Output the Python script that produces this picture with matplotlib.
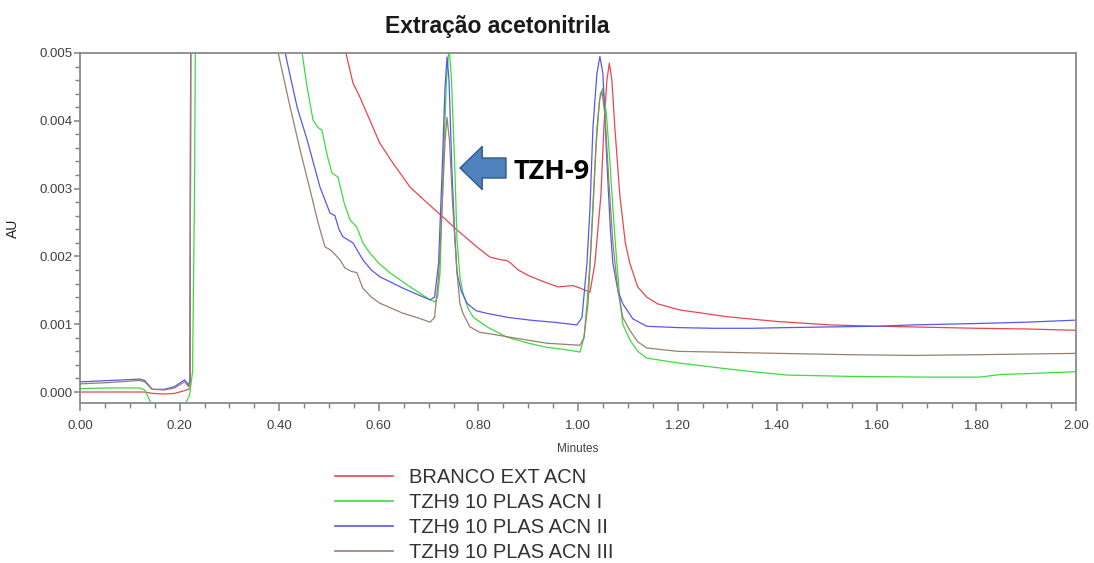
"""Cromatograma: extração em acetonitrila, branco e tres replicatas TZH9.
"""
import matplotlib
matplotlib.use('Agg')
import matplotlib.pyplot as plt
from matplotlib.lines import Line2D
from matplotlib.ticker import MultipleLocator, FormatStrFormatter

plt.rcParams['font.family'] = ['Liberation Sans', 'DejaVu Sans']

t_branco = [0.00, 0.05, 0.10, 0.13, 0.145, 0.17, 0.19, 0.205, 0.218, 0.221, 0.223,
            0.24, 0.45, 0.50, 0.52, 0.534, 0.548, 0.562, 0.582, 0.602, 0.628, 0.663,
            0.697, 0.729, 0.757, 0.797, 0.823, 0.845, 0.857, 0.865, 0.88, 0.90, 0.93,
            0.96, 0.99, 1.005, 1.024, 1.034, 1.046, 1.052, 1.058, 1.063, 1.068, 1.074,
            1.084, 1.095, 1.104, 1.12, 1.138, 1.16, 1.205, 1.30, 1.40, 1.506, 1.60,
            1.673, 1.80, 1.90, 2.00]
au_branco = [0.00000, 0.00000, 0.00000, 0.00000, -0.00002, -0.00003, -0.00002, 0.00001,
             0.00004, 0.00006, 0.0080, 0.030, 0.020, 0.0070, 0.0058, 0.0050, 0.00456,
             0.00435, 0.00401, 0.00367, 0.00338, 0.00302, 0.00279, 0.00258, 0.00239,
             0.00214, 0.00199, 0.00195, 0.00194, 0.00190, 0.00180, 0.00172, 0.00163,
             0.00155, 0.00157, 0.00153, 0.00147, 0.0019, 0.0029, 0.0039, 0.0046,
             0.00485, 0.0046, 0.0039, 0.0029, 0.0022, 0.0019, 0.00155, 0.00140,
             0.00130, 0.00121, 0.00111, 0.00104, 0.00099, 0.00097, 0.00096, 0.00094,
             0.00093, 0.00091]

t_acn1 = [0.00, 0.06, 0.12, 0.13, 0.145, 0.15, 0.20, 0.211, 0.22, 0.226, 0.23, 0.234,
          0.25, 0.40, 0.43, 0.446, 0.456, 0.468, 0.478, 0.486, 0.496, 0.506, 0.518,
          0.53, 0.542, 0.556, 0.568, 0.582, 0.60, 0.622, 0.663, 0.703, 0.713, 0.718,
          0.723, 0.729, 0.736, 0.741, 0.746, 0.753, 0.757, 0.763, 0.769, 0.78, 0.79,
          0.82, 0.857, 0.90, 0.937, 0.97, 1.004, 1.012, 1.018, 1.024, 1.031, 1.038,
          1.045, 1.05, 1.057, 1.064, 1.071, 1.078, 1.085, 1.09, 1.104, 1.12, 1.138,
          1.20, 1.29, 1.35, 1.42, 1.55, 1.70, 1.807, 1.85, 1.90, 2.00]
au_acn1 = [0.00005, 0.00006, 0.00006, 0.00003, -0.0002, -0.0004, -0.0004, -0.00018,
           -0.00005, 0.0003, 0.0030, 0.0080, 0.030, 0.020, 0.0062, 0.0050, 0.0045,
           0.00401, 0.0039, 0.00386, 0.0035, 0.00323, 0.00317, 0.0028, 0.00254,
           0.00243, 0.0022, 0.00205, 0.0019, 0.00176, 0.00155, 0.00136, 0.00133,
           0.0014, 0.00176, 0.00323, 0.0046, 0.0051, 0.0046, 0.00323, 0.00224,
           0.0017, 0.00146, 0.00122, 0.0011, 0.00095, 0.00081, 0.00072, 0.00066,
           0.00063, 0.00059, 0.0008, 0.0013, 0.0019, 0.0029, 0.0039, 0.0044,
           0.00448, 0.0041, 0.0034, 0.0026, 0.0019, 0.0013, 0.0010, 0.00077,
           0.00060, 0.00050, 0.00043, 0.00035, 0.00030, 0.00025, 0.00023, 0.00022,
           0.00022, 0.00026, 0.00027, 0.00030]

t_acn2 = [0.00, 0.06, 0.12, 0.13, 0.145, 0.17, 0.19, 0.21, 0.218, 0.221, 0.223, 0.24,
          0.38, 0.40, 0.412, 0.424, 0.436, 0.456, 0.482, 0.502, 0.512, 0.52, 0.528,
          0.548, 0.568, 0.585, 0.602, 0.649, 0.68, 0.703, 0.712, 0.72, 0.727, 0.733,
          0.737, 0.741, 0.747, 0.752, 0.757, 0.765, 0.777, 0.795, 0.817, 0.86, 0.904,
          0.95, 0.998, 1.008, 1.018, 1.024, 1.03, 1.038, 1.044, 1.05, 1.058, 1.065,
          1.07, 1.08, 1.09, 1.11, 1.138, 1.20, 1.271, 1.35, 1.42, 1.506, 1.60,
          1.673, 1.80, 1.90, 2.00]
au_acn2 = [0.00015, 0.00017, 0.00019, 0.00017, 0.00004, 0.00004, 0.00008, 0.00018,
           0.00010, 0.00020, 0.0080, 0.030, 0.020, 0.0062, 0.0050, 0.0046, 0.0042,
           0.00372, 0.00302, 0.00264, 0.0026, 0.0024, 0.00229, 0.0022, 0.00195,
           0.0018, 0.0017, 0.00153, 0.00143, 0.00136, 0.0014, 0.0019, 0.00323,
           0.0045, 0.00494, 0.0046, 0.00323, 0.0024, 0.00176, 0.0015, 0.00131,
           0.0012, 0.00116, 0.00110, 0.00106, 0.00103, 0.00099, 0.0011, 0.0019,
           0.0027, 0.0039, 0.0047, 0.00495, 0.0047, 0.0034, 0.0024, 0.0019, 0.0015,
           0.0013, 0.00108, 0.00097, 0.00095, 0.00094, 0.00094, 0.00095, 0.00096,
           0.00097, 0.00099, 0.00101, 0.00103, 0.00106]

t_acn3 = [0.00, 0.06, 0.12, 0.13, 0.145, 0.17, 0.19, 0.21, 0.218, 0.221, 0.223, 0.24,
          0.37, 0.387, 0.398, 0.41, 0.422, 0.442, 0.462, 0.478, 0.492, 0.502, 0.512,
          0.522, 0.532, 0.545, 0.556, 0.568, 0.585, 0.602, 0.649, 0.68, 0.703, 0.712,
          0.72, 0.727, 0.733, 0.737, 0.742, 0.748, 0.757, 0.763, 0.769, 0.783, 0.803,
          0.83, 0.87, 0.937, 0.98, 1.004, 1.012, 1.02, 1.028, 1.036, 1.043, 1.048,
          1.054, 1.062, 1.07, 1.08, 1.09, 1.104, 1.12, 1.138, 1.20, 1.27, 1.40, 1.55,
          1.673, 1.80, 1.90, 2.00]
au_acn3 = [0.00012, 0.00014, 0.00017, 0.00015, 0.00004, 0.00003, 0.00006, 0.00015,
           0.00008, 0.00015, 0.0080, 0.030, 0.020, 0.0062, 0.0050, 0.0046, 0.0042,
           0.00357, 0.00298, 0.0025, 0.00214, 0.0021, 0.00203, 0.00195, 0.00183,
           0.00178, 0.00176, 0.00153, 0.0014, 0.00131, 0.00116, 0.00109, 0.00103,
           0.0011, 0.0017, 0.0027, 0.0037, 0.00405, 0.0037, 0.0028, 0.00176, 0.0013,
           0.00116, 0.00096, 0.00088, 0.00085, 0.00080, 0.00072, 0.00070, 0.00069,
           0.0008, 0.0013, 0.0024, 0.0036, 0.0043, 0.00444, 0.0041, 0.0031, 0.0022,
           0.0015, 0.0011, 0.00091, 0.00074, 0.00065, 0.00060, 0.00059, 0.00057,
           0.00055, 0.00054, 0.00055, 0.00056, 0.00057]

labels = ['BRANCO EXT ACN', 'TZH9 10 PLAS ACN I', 'TZH9 10 PLAS ACN II',
          'TZH9 10 PLAS ACN III']
colors = ['#e8464e', '#3ddc3d', '#5858e8', '#98806e']

fig = plt.figure(figsize=(10.94, 5.63), dpi=100)
ax = fig.add_axes([80 / 1094, 1 - 403 / 563, 996 / 1094, 350 / 563])

series = [(t_branco, au_branco), (t_acn1, au_acn1), (t_acn2, au_acn2),
          (t_acn3, au_acn3)]
for (t, au), color in zip(series, colors):
    ax.plot(t, au, color=color, linewidth=0.9)

ax.set_xlim(0, 2.0)
ax.set_ylim(-0.000162, 0.005)

ax.xaxis.set_major_locator(MultipleLocator(0.2))
ax.xaxis.set_minor_locator(MultipleLocator(0.05))
ax.xaxis.set_major_formatter(FormatStrFormatter('%.2f'))
ax.yaxis.set_major_locator(MultipleLocator(0.001))
ax.yaxis.set_minor_locator(MultipleLocator(0.0002))
ax.yaxis.set_major_formatter(FormatStrFormatter('%.3f'))

ax.tick_params(axis='x', which='major', direction='out', length=6, width=1.1,
               color='#808080', labelsize=9.5, labelcolor='#404040', pad=6)
ax.tick_params(axis='y', which='major', direction='out', length=4, width=1.1,
               color='#808080', labelsize=9.5, labelcolor='#404040', pad=1.5)
ax.tick_params(which='minor', direction='out', length=3.5, width=1.0,
               color='#808080')
for side in ['top', 'bottom', 'left', 'right']:
    ax.spines[side].set_color('#8a8a8a')
    ax.spines[side].set_linewidth(1.3)

ax.set_xlabel('Minutes', fontsize=8.5, color='#404040')
ax.xaxis.set_label_coords(0.5, -46 / 350)
ax.xaxis.label.set_va('center')
ax.set_ylabel('AU', fontsize=10, color='#202020')
ax.yaxis.set_label_coords(-60 / 996, 0.5)

fig.text(497 / 1094, 1 - 27 / 563, 'Extração acetonitrila', fontsize=16.5,
         fontweight='bold', ha='center', va='center', color='#1a1a1a')

# Seta azul e rotulo do pico
ax.annotate('', xy=(460, 563 - 168), xycoords='figure pixels',
            xytext=(506, 563 - 168), textcoords='figure pixels',
            arrowprops=dict(arrowstyle='simple,head_length=0.8,head_width=1.55,tail_width=0.72',
                            mutation_scale=20, facecolor='#4f81bd',
                            edgecolor='#2f5a8c', linewidth=1.0,
                            shrinkA=0, shrinkB=0))
fig.text(513 / 1094, 1 - 172 / 563, 'TZH-9', fontsize=19.5, fontweight='bold',
         family=['Open Sans', 'DejaVu Sans'], ha='left', va='center',
         color='black')

handles = [Line2D([], [], color=c, linewidth=1.2) for c in colors]
fig.legend(handles, labels, loc='upper left',
           bbox_to_anchor=(335 / 1094, 1 - 468 / 563), frameon=False,
           fontsize=14.5, handlelength=2.9, handletextpad=0.75,
           labelspacing=0.3, borderpad=0, borderaxespad=0,
           labelcolor='#333333')

plt.savefig('out.png', dpi=100)
